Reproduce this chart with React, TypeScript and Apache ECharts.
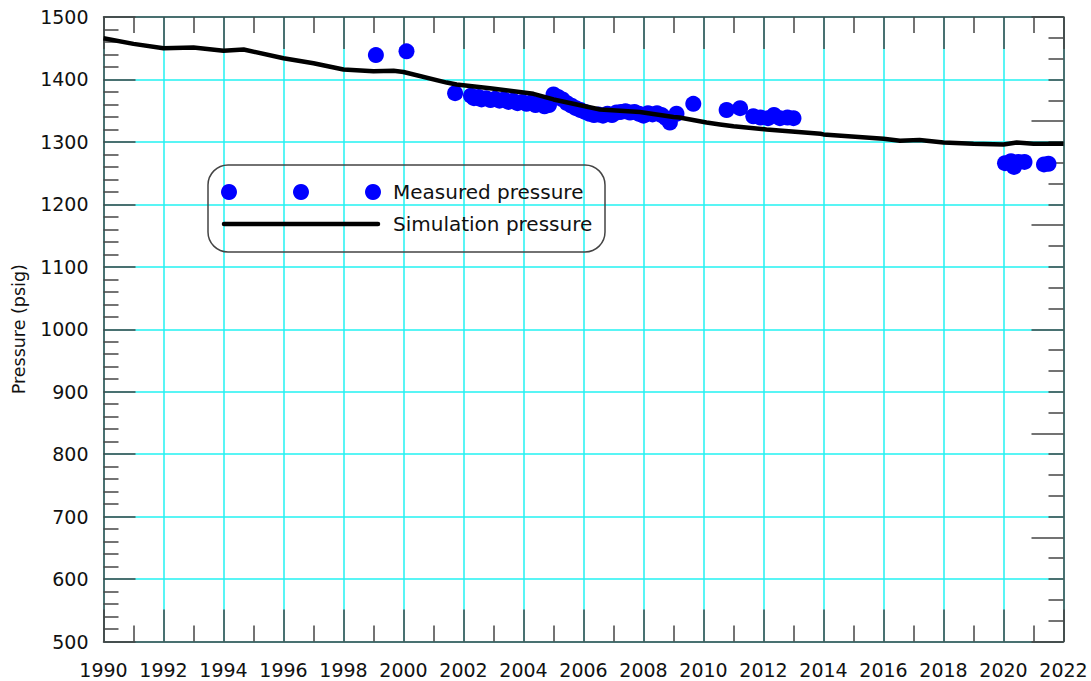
import React, { useEffect, useRef } from "react";
import * as echarts from "echarts";

const FONT = "DejaVu Sans";

// Simulation pressure [year, psig]
const simYears = [1990.0, 1991.0, 1992.0, 1993.0, 1994.0, 1994.67, 1996.0, 1997.0, 1998.0, 1999.0, 1999.67, 2000.0, 2001.44, 2001.77, 2002.88, 2004.33, 2005.0, 2006.55, 2007.88, 2009.0, 2009.2, 2010.1, 2010.55, 2011.0, 2012.1, 2013.9, 2014.0, 2016.0, 2016.55, 2017.2, 2018.0, 2019.0, 2020.0, 2020.44, 2021.0, 2022.0];
const simValues = [1466, 1457, 1450, 1451, 1446, 1448, 1434, 1426, 1416, 1413, 1414, 1412, 1395, 1392, 1386, 1377, 1368, 1352, 1348, 1340, 1339, 1331, 1328, 1325, 1320, 1313, 1312, 1305, 1302, 1303, 1299, 1297, 1296, 1299, 1297, 1297];

// Measured pressure [year, psig]
const measYears = [1999.08, 2000.1, 2001.72, 2002.25, 2002.35, 2002.5, 2002.6, 2002.75, 2002.9, 2003.05, 2003.2, 2003.35, 2003.5, 2003.65, 2003.8, 2003.95, 2004.1, 2004.25, 2004.4, 2004.55, 2004.7, 2004.85, 2005.0, 2005.15, 2005.3, 2005.45, 2005.6, 2005.75, 2005.9, 2006.05, 2006.2, 2006.35, 2006.5, 2006.65, 2006.8, 2006.95, 2007.1, 2007.25, 2007.4, 2007.55, 2007.7, 2007.85, 2008.0, 2008.15, 2008.3, 2008.45, 2008.6, 2008.75, 2008.88, 2009.1, 2009.66, 2010.77, 2011.22, 2011.66, 2011.9, 2012.15, 2012.35, 2012.55, 2012.8, 2013.0, 2020.05, 2020.25, 2020.35, 2020.5, 2020.7, 2021.35, 2021.5];
const measValues = [1439, 1445, 1378, 1374, 1370, 1372, 1368, 1370, 1367, 1369, 1366, 1368, 1364, 1366, 1362, 1364, 1361, 1363, 1359, 1361, 1357, 1359, 1376, 1372, 1368, 1362, 1358, 1354, 1351, 1348, 1345, 1343, 1344, 1342, 1345, 1343, 1347, 1348, 1349, 1347, 1348, 1345, 1342, 1346, 1344, 1346, 1343, 1338, 1331, 1345, 1361, 1351, 1354, 1341, 1339, 1338, 1343, 1338, 1339, 1338, 1266, 1269, 1260, 1268, 1268, 1264, 1265];

const seriesNames = ["Measured pressure", "Simulation pressure"];
const yAxisName = "Pressure (psig)";

const GRID_COLOR = "#22F2F2";
const AXIS_COLOR = "#444";

export default function App() {
  const ref = useRef<HTMLDivElement>(null);

  useEffect(() => {
    if (!ref.current) return;
    const chart = echarts.init(ref.current, undefined, { renderer: "svg" });

    const tickStyle = { color: AXIS_COLOR, width: 1.5 };
    const labelStyle = { color: "#111", fontFamily: FONT, fontSize: 19 };

    const xBase = {
      type: "value" as const,
      min: 1990,
      max: 2022,
      interval: 2,
      axisLine: { show: true, onZero: false, lineStyle: { color: AXIS_COLOR, width: 1.5 } },
      axisTick: { show: true, inside: true, length: 32, lineStyle: tickStyle },
      minorTick: { show: true, splitNumber: 2, length: 16, lineStyle: tickStyle },
    };

    chart.setOption({
      animation: false,
      backgroundColor: "#fff",
      grid: { left: 103.5, right: 27.5, top: 17, bottom: 39.5, containLabel: false },
      xAxis: [
        {
          ...xBase,
          position: "bottom",
          axisLabel: { ...labelStyle, margin: 19, formatter: (v: number) => String(v) },
          splitLine: { show: true, lineStyle: { color: GRID_COLOR, width: 1.5 } },
        },
        {
          ...xBase,
          position: "top",
          axisLabel: { show: false },
          splitLine: { show: false },
        },
      ],
      yAxis: [
        {
          type: "value",
          min: 500,
          max: 1500,
          interval: 100,
          position: "left",
          name: yAxisName,
          nameLocation: "middle",
          nameGap: 76,
          nameTextStyle: { color: "#111", fontFamily: FONT, fontSize: 17.5 },
          axisLine: { show: true, onZero: false, lineStyle: { color: AXIS_COLOR, width: 1.5 } },
          axisTick: { show: true, inside: true, length: 32, lineStyle: tickStyle },
          minorTick: { show: true, splitNumber: 5, length: 15, lineStyle: tickStyle },
          axisLabel: { ...labelStyle, margin: 15, formatter: (v: number) => String(v) },
          splitLine: { show: true, lineStyle: { color: GRID_COLOR, width: 1.5 } },
        },
        {
          type: "value",
          min: 0,
          max: 30,
          interval: 5,
          position: "right",
          axisLine: { show: true, onZero: false, lineStyle: { color: AXIS_COLOR, width: 1.5 } },
          axisTick: { show: true, inside: true, length: 32, lineStyle: tickStyle },
          minorTick: { show: true, splitNumber: 5, length: 15, lineStyle: tickStyle },
          axisLabel: { show: false },
          splitLine: { show: false },
        },
      ],
      series: [
        {
          name: seriesNames[1],
          type: "line",
          xAxisIndex: 0,
          yAxisIndex: 0,
          data: simYears.map((x, i) => [x, simValues[i]]),
          showSymbol: false,
          symbol: "none",
          lineStyle: { color: "#000", width: 4.5 },
          z: 3,
        },
        {
          name: seriesNames[0],
          type: "scatter",
          xAxisIndex: 0,
          yAxisIndex: 0,
          data: measYears.map((x, i) => [x, measValues[i]]),
          symbol: "circle",
          symbolSize: 16,
          itemStyle: { color: "#0000FF", opacity: 1 },
          z: 2,
        },
      ],
      graphic: [
        {
          type: "rect",
          shape: { x: 208, y: 165, width: 397, height: 87, r: 20 },
          style: { fill: "transparent", stroke: "#444", lineWidth: 1.5 },
          z: 10,
        },
        { type: "circle", shape: { cx: 229, cy: 192, r: 8 }, style: { fill: "#0000FF" }, z: 10 },
        { type: "circle", shape: { cx: 301, cy: 192, r: 8 }, style: { fill: "#0000FF" }, z: 10 },
        { type: "circle", shape: { cx: 373, cy: 192, r: 8 }, style: { fill: "#0000FF" }, z: 10 },
        {
          type: "line",
          shape: { x1: 224, y1: 224, x2: 378, y2: 224 },
          style: { stroke: "#000", lineWidth: 4.5, lineCap: "round" },
          z: 10,
        },
        {
          type: "text",
          x: 393,
          y: 192,
          style: { text: seriesNames[0], fill: "#111", fontFamily: FONT, fontSize: 20, verticalAlign: "middle" },
          z: 10,
        },
        {
          type: "text",
          x: 393,
          y: 224,
          style: { text: seriesNames[1], fill: "#111", fontFamily: FONT, fontSize: 20, verticalAlign: "middle" },
          z: 10,
        },
      ],
    });

    return () => chart.dispose();
  }, []);

  return (
    <div
      ref={ref}
      style={{ position: "absolute", left: 0, top: 0, width: 1091, height: 681 }}
    />
  );
}
